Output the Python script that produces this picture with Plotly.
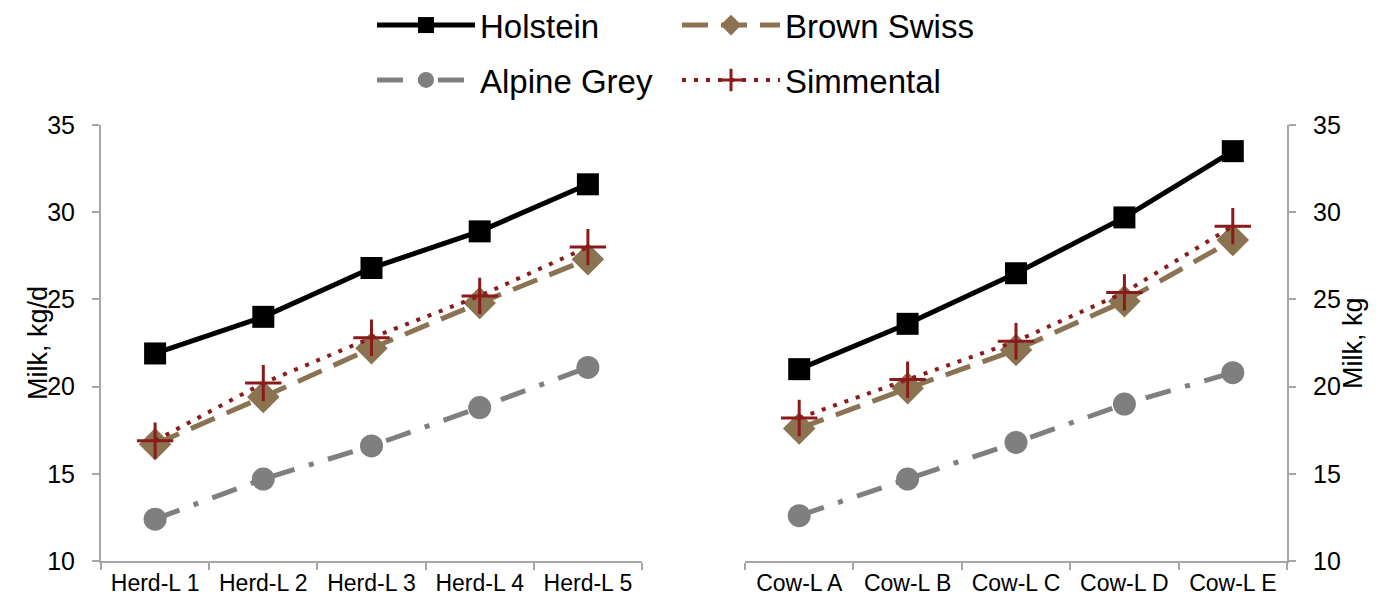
import plotly.graph_objects as go

herd_cats = ["Herd-L 1", "Herd-L 2", "Herd-L 3", "Herd-L 4", "Herd-L 5"]
cow_cats = ["Cow-L A", "Cow-L B", "Cow-L C", "Cow-L D", "Cow-L E"]

holstein_herd = [21.9, 24.0, 26.8, 28.9, 31.6]
brown_herd = [16.7, 19.4, 22.2, 24.8, 27.3]
alpine_herd = [12.4, 14.7, 16.6, 18.8, 21.1]
simmental_herd = [16.9, 20.2, 22.8, 25.2, 28.0]

holstein_cow = [21.0, 23.6, 26.5, 29.7, 33.5]
brown_cow = [17.6, 19.9, 22.1, 24.9, 28.4]
alpine_cow = [12.6, 14.7, 16.8, 19.0, 20.8]
simmental_cow = [18.2, 20.4, 22.6, 25.4, 29.2]

y_ticks = [10, 15, 20, 25, 30, 35]

FONT = "Liberation Sans, Arial, sans-serif"
AX = "#A6A6A6"
BLACK = "#000000"
BROWN = "#8B7352"
GREY = "#7F7F7F"
RED = "#8B1A1A"

styles = {
    "Holstein": dict(line=dict(color=BLACK, width=5, dash="solid"),
                     marker=dict(symbol="square", size=22, color=BLACK),
                     legend="legend", group="g1"),
    "Brown Swiss": dict(line=dict(color=BROWN, width=5, dash="26px,13px"),
                        marker=dict(symbol="diamond", size=25, color=BROWN),
                        legend="legend2", group="g2"),
    "Alpine Grey": dict(line=dict(color=GREY, width=5, dash="26px,15px,5px,15px"),
                        marker=dict(symbol="circle", size=23, color=GREY),
                        legend="legend", group="g3"),
    "Simmental": dict(line=dict(color=RED, width=4, dash="4px,8px"),
                      marker=dict(symbol="cross-thin", size=26, color=RED,
                                  line=dict(color=RED, width=3)),
                      legend="legend2", group="g4"),
}

herd_data = {"Holstein": holstein_herd, "Brown Swiss": brown_herd,
             "Alpine Grey": alpine_herd, "Simmental": simmental_herd}
cow_data = {"Holstein": holstein_cow, "Brown Swiss": brown_cow,
            "Alpine Grey": alpine_cow, "Simmental": simmental_cow}

fig = go.Figure()
order = ["Holstein", "Brown Swiss", "Alpine Grey", "Simmental"]
for name in order:
    s = styles[name]
    fig.add_trace(go.Scatter(x=herd_cats, y=herd_data[name], name=name,
                             mode="lines+markers", line=s["line"], marker=s["marker"],
                             legend=s["legend"], legendgroup=s["group"],
                             xaxis="x", yaxis="y", showlegend=True))
for name in order:
    s = styles[name]
    fig.add_trace(go.Scatter(x=cow_cats, y=cow_data[name], name=name,
                             mode="lines+markers", line=s["line"], marker=s["marker"],
                             legend=s["legend"], legendgroup=s["group"],
                             xaxis="x2", yaxis="y2", showlegend=False))

W, H = 1394, 605
OFF = 8  # page body margin offset
ydom = [1 - (561 - OFF) / H, 1 - (125 - OFF) / H]
common_x = dict(type="category", range=[-0.5, 4.5], showline=True, linecolor=AX, linewidth=2,
                ticks="outside", tickson="boundaries", ticklen=7, tickcolor=AX, tickwidth=2,
                showgrid=False, zeroline=False, automargin=False,
                tickfont=dict(family=FONT, size=23, color="#000"))
common_y = dict(range=[10, 35], tickvals=y_ticks, showline=True, linecolor=AX, linewidth=2,
                ticks="outside", ticklen=7, tickcolor=AX, tickwidth=2,
                showgrid=False, zeroline=False, automargin=False,
                ticklabelstandoff=12,
                tickfont=dict(family=FONT, size=25, color="#000"))

legend_common = dict(orientation="v", xanchor="left", yanchor="top", y=1.018,
                     font=dict(family=FONT, size=33, color="#000"),
                     itemwidth=98, tracegroupgap=9, bgcolor="rgba(0,0,0,0)")

fig.update_layout(
    width=W, height=H,
    margin=dict(l=0, r=0, t=0, b=0, autoexpand=False),
    paper_bgcolor="white", plot_bgcolor="white",
    font=dict(family=FONT, color="#000"),
    xaxis=dict(domain=[(101 - OFF) / W, (642 - OFF) / W], anchor="y", **common_x),
    yaxis=dict(domain=ydom, anchor="x", **common_y),
    xaxis2=dict(domain=[(745 - OFF) / W, (1287 - OFF) / W], anchor="y2", **common_x),
    yaxis2=dict(domain=ydom, anchor="x2", side="right", **common_y),
    legend=dict(x=364 / W, **legend_common),
    legend2=dict(x=669 / W, **legend_common),
    annotations=[
        dict(text="Milk, kg/d", x=(21 - OFF) / W, y=(ydom[0] + ydom[1]) / 2, xref="paper", yref="paper",
             textangle=-90, showarrow=False, font=dict(family=FONT, size=27, color="#000")),
        dict(text="Milk, kg", x=(1370 - OFF) / W, y=(ydom[0] + ydom[1]) / 2, xref="paper", yref="paper",
             textangle=-90, showarrow=False, font=dict(family=FONT, size=27, color="#000")),
    ],
)

fig.write_html("out.html")
